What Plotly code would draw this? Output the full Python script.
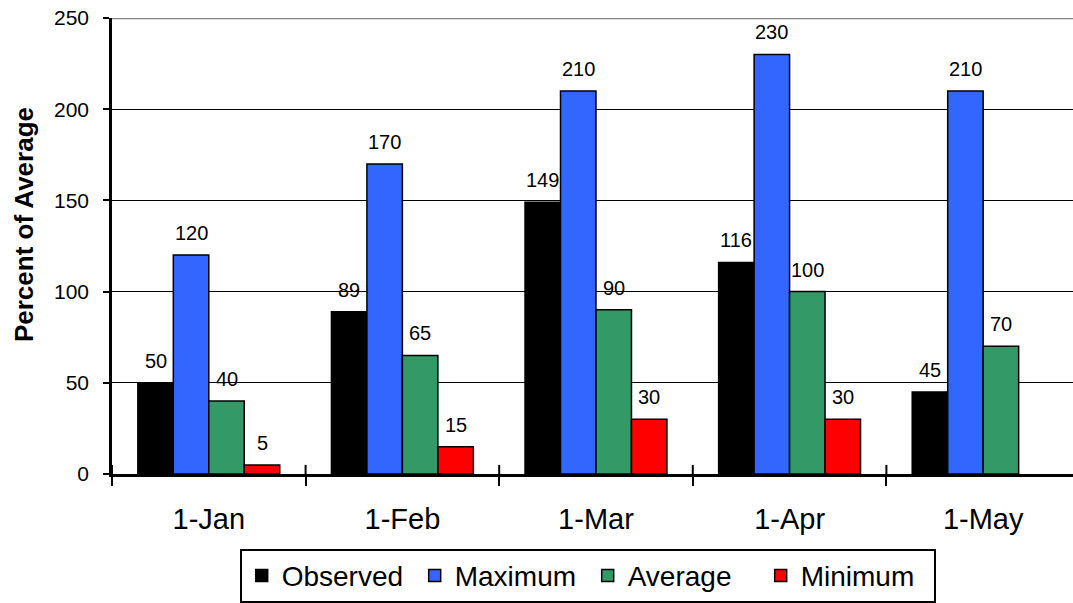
import plotly.graph_objects as go

# Snowpack percent-of-average by survey date
dates = ["1-Jan", "1-Feb", "1-Mar", "1-Apr", "1-May"]
observed = [50, 89, 149, 116, 45]
maximum = [120, 170, 210, 230, 210]
average = [40, 65, 90, 100, 70]
minimum = [5, 15, 30, 30, None]

series = [
    ("Observed", observed, "#000000"),
    ("Maximum", maximum, "#3366FF"),
    ("Average", average, "#339966"),
    ("Minimum", minimum, "#FF0000"),
]

FONT = "Liberation Sans, Arial, sans-serif"
BARGAP = 0.267

fig = go.Figure()
for name, vals, color in series:
    fig.add_trace(go.Bar(
        name=name, x=dates, y=vals,
        marker=dict(color=color, line=dict(color="#000000", width=1.5)),
    ))

# value labels above each bar
n = len(series)
w = (1 - BARGAP) / n
annotations = []
for i, (name, vals, color) in enumerate(series):
    for j, v in enumerate(vals):
        if v is None:
            continue
        annotations.append(dict(
            x=j + (i - (n - 1) / 2) * w, y=v, xref="x", yref="y",
            text=str(v), showarrow=False, yanchor="middle", yshift=22,
            font=dict(family=FONT, size=20, color="#000000"),
        ))

# vertical axis title
annotations.append(dict(
    text="<b>Percent of Average</b>", textangle=-90, showarrow=False,
    xref="paper", yref="paper", x=-0.0916, y=0.548,
    xanchor="center", yanchor="middle",
    font=dict(family=FONT, size=26, color="#000000"),
))

# tick marks crossing the category axis (inner half)
shapes = []
for k in range(len(dates)):
    shapes.append(dict(type="line", xref="x", yref="paper",
                       x0=k - 0.5, x1=k - 0.5, y0=0, y1=0.02,
                       line=dict(color="#000000", width=2)))
# top border line at the axis maximum
shapes.append(dict(type="line", xref="paper", yref="y", x0=0, x1=1,
                   y0=250, y1=250, line=dict(color="#808080", width=2.5),
                   layer="above"))

fig.update_layout(
    width=1073, height=603,
    margin=dict(l=112, r=0, t=18, b=127),
    paper_bgcolor="white", plot_bgcolor="white",
    barmode="group", bargap=BARGAP, bargroupgap=0,
    font=dict(family=FONT, color="#000000"),
    annotations=annotations, shapes=shapes,
    showlegend=True,
    legend=dict(
        orientation="h", x=0.495, xanchor="center", y=-0.1638, yanchor="top",
        bordercolor="#000000", borderwidth=2, bgcolor="white",
        font=dict(family=FONT, size=28, color="#000000"),
        traceorder="normal", entrywidth=128, entrywidthmode="pixels",
    ),
    xaxis=dict(
        range=[-0.5, 4.464], tickson="boundaries", ticks="outside",
        ticklen=9, tickwidth=2, tickcolor="#000000",
        showline=True, linecolor="#000000", linewidth=3,
        showgrid=False, tickfont=dict(family=FONT, size=29),
        ticklabelstandoff=17,
    ),
    yaxis=dict(
        range=[0, 250], tickvals=[0, 50, 100, 150, 200, 250],
        ticks="outside", ticklen=6, tickwidth=1.5, tickcolor="#000000",
        showline=True, linecolor="#000000", linewidth=2.5,
        showgrid=True, gridcolor="#000000", gridwidth=1,
        zeroline=False, tickfont=dict(family=FONT, size=21),
        ticklabelstandoff=10,
        automargin=False,
    ),
)

fig.write_html("out.html")
